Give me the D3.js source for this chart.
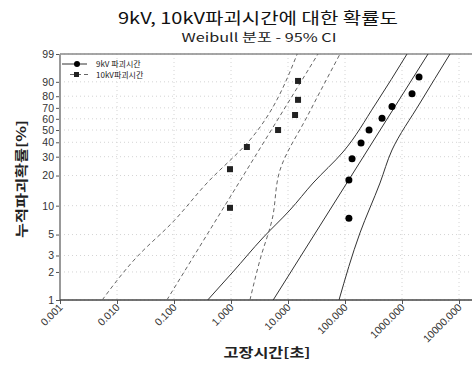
<!DOCTYPE html>
<html>
<head>
<meta charset="utf-8">
<script src="https://cdn.jsdelivr.net/npm/d3@7"></script>
<style>
body{margin:0;background:#fff}
svg{display:block;font-family:"Noto Sans CJK KR","Noto Sans",sans-serif}
</style>
</head>
<body>
<svg></svg>
<script>
var screen={width:472,height:365}
var plot={left:60,right:472,top:54,bottom:300}

// 9kV 파괴시간 : time [s], cumulative %
var kv9Time=[117,117,133,191,264,446,668,1500,1990]
var kv9Pct=[7.4,18.1,28.7,39.4,50,60.6,71.3,81.9,92.6]
var kv9Fit=[[5.5,1],[2860,99]]
var kv9Lower=[[0.39,1],[1.08,2],[3.6,4.6],[10.8,9],[27.5,16.9],[92,33],[336,72.6],[1225,99]]
var kv9Upper=[[78.5,1],[183,5.2],[411,16.9],[668,34.4],[2070,74.3],[6950,99]]

// 10kV파괴시간
var kv10Time=[0.96,0.96,1.9,6.7,13.3,15,15]
var kv10Pct=[9.5,23,36.5,50,63.5,77,90.5]
var kv10Fit=[[0.075,1],[33.6,99]]
var kv10Lower=[[0.0055,1],[0.0224,2.9],[0.096,6.8],[0.379,16.9],[2.15,41.8],[14.5,99]]
var kv10Upper=[[2.15,1],[3.23,2.7],[5.24,7.1],[7.25,22.6],[22.4,63.5],[81.7,99]]

var xTicks=[0.001,0.01,0.1,1,10,100,1000,10000]
var yTicks=[1,2,3,5,10,20,30,40,50,60,70,80,90,99]

// weibull probability paper
var wb=function(p){return Math.log(-Math.log(1-p/100))}

var xScale=d3.scaleLog().domain([0.001,10000]).range([60,459])
var yScale=d3.scaleLinear().domain([wb(1),wb(99)]).range([plot.bottom,plot.top])

var svg=d3.select("svg").attr("width",screen.width).attr("height",screen.height)

// faint dotted grid
svg.append("g").selectAll("line").data(yTicks).enter().append("line")
    .attr("x1",plot.left).attr("x2",plot.right)
    .attr("y1",function(d){return yScale(wb(d))})
    .attr("y2",function(d){return yScale(wb(d))})
    .attr("stroke","#d4d4d4").attr("stroke-dasharray","1,3")
svg.append("g").selectAll("line").data(xTicks).enter().append("line")
    .attr("x1",function(d){return xScale(d)}).attr("x2",function(d){return xScale(d)})
    .attr("y1",plot.top).attr("y2",plot.bottom)
    .attr("stroke","#d4d4d4").attr("stroke-dasharray","1,3")

// axes
var yAxis=d3.axisLeft(yScale)
    .tickValues(yTicks.map(wb))
    .tickFormat(function(d,i){return yTicks[i]})
    .tickSize(4).tickSizeOuter(0)
var gy=svg.append("g").attr("transform","translate("+plot.left+",0)").call(yAxis)
gy.select(".domain").remove()
gy.selectAll("line").attr("stroke","#555")
gy.selectAll("text").attr("font-family","Liberation Sans, Arial").attr("font-size",10.5).attr("fill","#333").attr("x",-6)

var xAxis=d3.axisBottom(xScale).tickValues(xTicks).tickFormat(d3.format(".3f")).tickSize(4).tickSizeOuter(0)
var gx=svg.append("g").attr("transform","translate(0,"+plot.bottom+")").call(xAxis)
gx.select(".domain").remove()
gx.selectAll("line").attr("stroke","#555")
gx.selectAll("text")
    .attr("font-family","Liberation Sans, Arial").attr("font-size",10.5).attr("fill","#333")
    .attr("text-anchor","end").attr("dy",0).attr("y",0)
    .attr("transform","translate(3,8) rotate(-45)")

svg.append("line").attr("x1",plot.left).attr("x2",plot.right).attr("y1",plot.top).attr("y2",plot.top)
    .attr("stroke","#888").attr("stroke-width",1.5)
svg.append("line").attr("x1",plot.left).attr("x2",plot.left).attr("y1",plot.top).attr("y2",plot.bottom)
    .attr("stroke","#999").attr("stroke-width",2)
svg.append("line").attr("x1",plot.left).attr("x2",plot.right).attr("y1",plot.bottom).attr("y2",plot.bottom)
    .attr("stroke","#444").attr("stroke-width",1.5)

var line=d3.line()
    .curve(d3.curveMonotoneY)
    .x(function(d){return xScale(d[0])})
    .y(function(d){return yScale(wb(d[1]))})

var drawLine=function(data,dashed){
    svg.append("path").datum(data)
        .attr("d",line)
        .attr("fill","none")
        .attr("stroke",dashed?"#666":"#333")
        .attr("stroke-width",1)
        .attr("stroke-dasharray",dashed?"4,3":null)
}
drawLine(kv9Lower,false)
drawLine(kv9Fit,false)
drawLine(kv9Upper,false)
drawLine(kv10Lower,true)
drawLine(kv10Fit,true)
drawLine(kv10Upper,true)

svg.append("g").selectAll("circle").data(kv9Time).enter().append("circle")
    .attr("cx",function(d){return xScale(d)})
    .attr("cy",function(d,i){return yScale(wb(kv9Pct[i]))})
    .attr("r",3.5).attr("fill","#000")

svg.append("g").selectAll("rect").data(kv10Time).enter().append("rect")
    .attr("x",function(d){return xScale(d)-3})
    .attr("y",function(d,i){return yScale(wb(kv10Pct[i]))-3})
    .attr("width",6).attr("height",6).attr("fill","#222")

// legend
var leg=svg.append("g").attr("font-size",8).attr("fill","#222")
leg.append("line").attr("x1",62).attr("x2",87).attr("y1",64).attr("y2",64).attr("stroke","#333")
leg.append("circle").attr("cx",77).attr("cy",64).attr("r",3).attr("fill","#000")
leg.append("text").attr("x",96).attr("y",67).text("9kV 파괴시간")
leg.append("line").attr("x1",70).attr("x2",88).attr("y1",74.5).attr("y2",74.5).attr("stroke","#666").attr("stroke-dasharray","4,3")
leg.append("rect").attr("x",74).attr("y",72).attr("width",5).attr("height",5).attr("fill","#222")
leg.append("text").attr("x",96).attr("y",77.5).text("10kV파괴시간")

// titles
svg.append("text").attr("x",258).attr("y",24).attr("text-anchor","middle")
    .attr("font-size",16).attr("fill","#111")
    .attr("textLength",280).attr("lengthAdjust","spacingAndGlyphs")
    .text("9kV, 10kV파괴시간에 대한 확률도")
svg.append("text").attr("x",259).attr("y",42).attr("text-anchor","middle")
    .attr("font-size",12).attr("fill","#222")
    .attr("textLength",155).attr("lengthAdjust","spacingAndGlyphs")
    .text("Weibull 분포 - 95% CI")
svg.append("text").attr("x",267).attr("y",357).attr("text-anchor","middle")
    .attr("font-size",13).attr("font-weight","bold").attr("fill","#222")
    .attr("textLength",87).attr("lengthAdjust","spacingAndGlyphs")
    .text("고장시간[초]")
svg.append("text").attr("transform","translate(26,179) rotate(-90)").attr("text-anchor","middle")
    .attr("font-size",13).attr("font-weight","bold").attr("fill","#222")
    .attr("textLength",118).attr("lengthAdjust","spacingAndGlyphs")
    .text("누적파괴확률[%]")
</script>
</body>
</html>
